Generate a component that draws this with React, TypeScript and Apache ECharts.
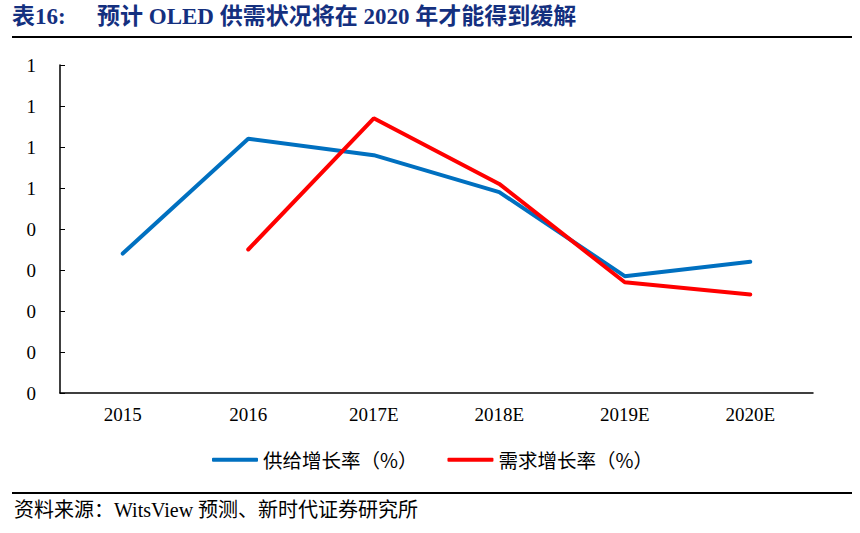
import React, { useEffect, useRef } from 'react';
import * as echarts from 'echarts';

// 数据
const categories = ['2015', '2016', '2017E', '2018E', '2019E', '2020E'];
const supplyGrowth = [0.68, 1.24, 1.16, 0.98, 0.57, 0.64];
const demandGrowth = [null, 0.70, 1.34, 1.02, 0.54, 0.48];
const seriesNames = ['供给增长率（%）', '需求增长率（%）'];

const App: React.FC = () => {
    const chartRef: any = useRef(null);

    useEffect(() => {
        const chart = echarts.init(chartRef.current, null, { renderer: 'svg' });
        const serif = '"Liberation Serif", "Noto Sans CJK SC", serif';
        const option = {
            animation: false,
            backgroundColor: '#ffffff',
            textStyle: { fontFamily: serif },
            graphic: [
                {
                    type: 'text',
                    left: 12,
                    top: 5,
                    style: {
                        text: '表16:',
                        font: 'bold 23px "Liberation Serif", "Noto Sans CJK SC", serif',
                        fill: '#14307f'
                    }
                },
                {
                    type: 'text',
                    left: 97,
                    top: 5,
                    style: {
                        text: '预计 OLED 供需状况将在 2020 年才能得到缓解',
                        font: 'bold 23px "Liberation Serif", "Noto Sans CJK SC", serif',
                        fill: '#14307f'
                    }
                },
                {
                    type: 'line',
                    shape: { x1: 12, y1: 37, x2: 852, y2: 37 },
                    style: { stroke: '#000', lineWidth: 2 }
                },
                {
                    type: 'line',
                    shape: { x1: 12, y1: 493, x2: 852, y2: 493 },
                    style: { stroke: '#000', lineWidth: 2 }
                },
                {
                    type: 'text',
                    left: 14,
                    top: 500,
                    style: {
                        text: '资料来源：WitsView 预测、新时代证券研究所',
                        font: '20px "Liberation Serif", "Noto Sans CJK SC", serif',
                        fill: '#000'
                    }
                }
            ],
            legend: {
                top: 445,
                left: 207,
                itemWidth: 46,
                itemHeight: 4,
                itemGap: 30,
                icon: 'roundRect',
                textStyle: { fontSize: 19.5, color: '#000', fontFamily: '"Noto Sans CJK SC", serif' },
                data: seriesNames
            },
            grid: { left: 60, right: 47, top: 65, bottom: 140 },
            xAxis: {
                type: 'category',
                data: categories,
                boundaryGap: true,
                axisLine: { lineStyle: { color: '#000', width: 1.5 } },
                axisTick: { inside: true, length: 5, lineStyle: { color: '#000' } },
                axisLabel: { color: '#000', fontSize: 19, margin: 12, fontFamily: serif }
            },
            yAxis: {
                type: 'value',
                min: 0,
                max: 1.6,
                interval: 0.2,
                splitLine: { show: false },
                axisLine: { show: true, lineStyle: { color: '#000', width: 1.5 } },
                axisTick: { show: true, inside: true, length: 5, lineStyle: { color: '#000' } },
                axisLabel: {
                    color: '#000',
                    fontSize: 19,
                    margin: 24,
                    fontFamily: serif,
                    formatter: (v: number) => String(Math.floor(v + 1e-9))
                }
            },
            series: [
                {
                    name: seriesNames[0],
                    type: 'line',
                    data: supplyGrowth,
                    symbol: 'none',
                    lineStyle: { color: '#0070c0', width: 4, cap: 'round' },
                    itemStyle: { color: '#0070c0' }
                },
                {
                    name: seriesNames[1],
                    type: 'line',
                    data: demandGrowth,
                    symbol: 'none',
                    lineStyle: { color: '#ff0000', width: 4, cap: 'round' },
                    itemStyle: { color: '#ff0000' }
                }
            ]
        };
        chart.setOption(option);
        return () => {
            chart.dispose();
        };
    }, []);

    return (
        <div
            ref={chartRef}
            style={{ position: 'fixed', left: 0, top: 0, width: 860, height: 533 }}
        ></div>
    );
};

export default App;
